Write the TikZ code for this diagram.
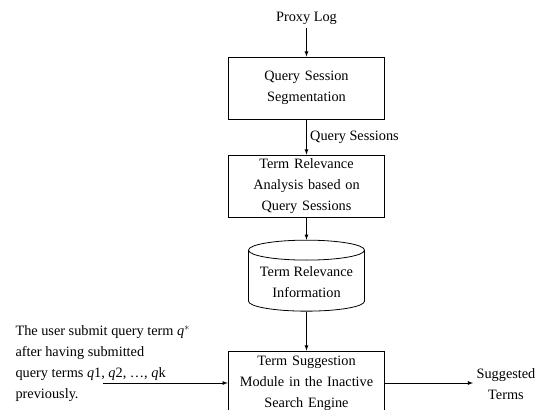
\documentclass[tikz,border=0pt]{standalone}
\usepackage{fontspec}
\setmainfont{Liberation Serif}
\usetikzlibrary{shapes.geometric, arrows}
\tikzstyle{proc} = [rectangle, minimum width=155pt, minimum height=62pt, text width=150pt, align=center, draw=black, line width=0.8pt]
\tikzstyle{store} = [cylinder, shape border rotate=90, aspect=0.2, minimum width=116pt, minimum height=71pt, align=center, draw=black, line width=0.8pt]
\tikzstyle{arrow} = [line width=0.8pt,->,>=latex]

\begin{document}
\begin{tikzpicture}[x=1pt, y=1pt, font=\fontsize{14.3}{21}\selectfont]
	\useasboundingbox (0,0) rectangle (547,-410);
	\node (log) at (306.5,-18) {Proxy Log};
	\node (seg) [proc, below of=log, node distance=70pt] {Query Session\\Segmentation};
	\node (rel) [proc, below of=seg, node distance=98pt] {Term Relevance\\Analysis based on\\Query Sessions};
	\node (info) [store, below of=rel, node distance=96.5pt] {Term Relevance\\Information};
	\node (sug) [proc, minimum height=64pt, below of=info, node distance=100.5pt] {Term Suggestion\\Module in the Inactive\\Search Engine};
	\node (user) [anchor=north west, align=left] at (12,-322) {The user submit query term \textit{q}$^{*}$\\after having submitted\\query terms \textit{q}1, \textit{q}2, \dots, \textit{q}k\\previously.};
	\coordinate (start) at (103,-383);
	\node (out) [align=center] at (506,-384) {Suggested\\Terms};
	\draw [arrow] (log) -- (seg);
	\draw [arrow] (seg) -- node [anchor=west]{Query Sessions} (rel);
	\draw [arrow] (rel) -- (info);
	\draw [arrow] (info) -- (sug);
	\draw [arrow] (start) -- (sug.west |- start);
	\draw [arrow] (sug.east |- start) -- (out.west |- start);
\end{tikzpicture}
\end{document}
